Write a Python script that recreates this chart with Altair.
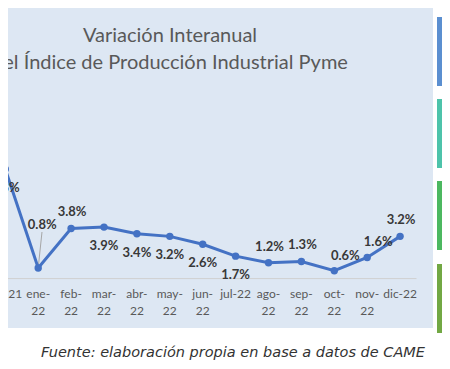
import altair as alt
import pandas as pd

# ---- data ----
months = ["nov-21", "dic-21", "ene-22", "feb-22", "mar-22", "abr-22", "may-22",
          "jun-22", "jul-22", "ago-22", "sep-22", "oct-22", "nov-22", "dic-22"]
axis_labels = ["nov-21", "dic-21", "ene-\n22", "feb-\n22", "mar-\n22", "abr-\n22",
               "may-\n22", "jun-\n22", "jul-22", "ago-\n22", "sep-\n22", "oct-\n22",
               "nov-\n22", "dic-22"]
values = [12.6, 8.3, 0.8, 3.8, 3.9, 3.4, 3.2, 2.6, 1.7, 1.2, 1.3, 0.6, 1.6, 3.2]
label_place = ["below", "below", "leader", "above", "below", "below", "below",
               "below", "below", "above", "above", "aboveright", "aboveright", "above"]

title_lines = "Variación Interanual\ndel Índice de Producción Industrial Pyme"
source_text = "Fuente: elaboración propia en base a datos de CAME"
side_colors = ["#5B8FD0", "#4DC3AA", "#4CB860", "#72A844"]

df = pd.DataFrame({
    "idx": list(range(len(months))),
    "mes": months,
    "eje": axis_labels,
    "valor": values,
    "etiqueta": [f"{v:.1f}%" for v in values],
    "pos": label_place,
})

xs = alt.Scale(domain=[1.082, 14.0], nice=False, zero=False)
ys = alt.Scale(domain=[-3.742, 20.5], nice=False, zero=False)
X = alt.X("idx:Q", scale=xs, axis=None)
Y = alt.Y("valor:Q", scale=ys, axis=None)

base = alt.Chart(df)

panel = alt.Chart(pd.DataFrame({"p": [0]})).mark_rect(color="#DDE7F3").encode(
    x=alt.value(-8), x2=alt.value(425), y=alt.value(0), y2=alt.value(320)
)

zero_rule = alt.Chart(pd.DataFrame({"valor": [0]})).mark_rule(
    color="#D0D0D0", strokeWidth=1
).encode(y=Y, x=alt.value(-8), x2=alt.value(408.5))

line = base.mark_line(color="#4472C4", strokeWidth=3).encode(x=X, y=Y)
pts = base.mark_circle(size=55, color="#4472C4", opacity=1).encode(x=X, y=Y)

leader = base.transform_filter(alt.datum.pos == "leader").mark_rule(
    color="#A6A6A6", strokeWidth=1
).encode(x=X, y=Y, x2=alt.value(34), y2=alt.value(224))

offsets = {"below": (0, 19), "above": (1, -16), "aboveright": (11, -15), "leader": (4, -43)}
label_layers = []
for place, (dx, dy) in offsets.items():
    label_layers.append(
        base.transform_filter(alt.datum.pos == place).mark_text(
            font="Lato", fontSize=13, fontWeight="bold", color="#383838",
            dx=dx, dy=dy, baseline="middle", align="center"
        ).encode(x=X, y=Y, text="etiqueta:N")
    )

xlabels = base.mark_text(
    font="Lato", fontSize=12, color="#595959", baseline="top", align="center",
    lineBreak="\n", lineHeight=17
).encode(x=X, y=alt.value(281), text="eje:N")

title = alt.Chart(pd.DataFrame({"t": [title_lines]})).mark_text(
    font="Lato", fontSize=20, color="#595959", align="center", baseline="alphabetic",
    lineBreak="\n", lineHeight=27
).encode(text="t:N", x=alt.value(162), y=alt.value(34))

source = alt.Chart(pd.DataFrame({"t": [source_text]})).mark_text(
    font="DejaVu Sans", fontSize=14.5, fontStyle="italic", color="#333333",
    align="right", baseline="alphabetic"
).encode(text="t:N", x=alt.value(417), y=alt.value(349))

box_tops = [9, 91, 173, 256]
boxes = []
for c, t in zip(side_colors, box_tops):
    boxes.append(
        alt.Chart(pd.DataFrame({"c": [c]})).mark_rect(color=c).encode(
            x=alt.value(429), x2=alt.value(442), y=alt.value(t), y2=alt.value(t + 69)
        )
    )

chart = alt.layer(
    panel, zero_rule, leader, line, pts, *label_layers, xlabels, title, source, *boxes
).properties(
    width=425, height=320,
    autosize=alt.AutoSizeParams(type="none"),
    padding={"left": 0, "top": 0, "right": 9, "bottom": 33},
    background="white",
).configure_view(fill="#DDE7F3", stroke=None)

chart.save("out.html", embed_options={"renderer": "svg", "actions": False})
